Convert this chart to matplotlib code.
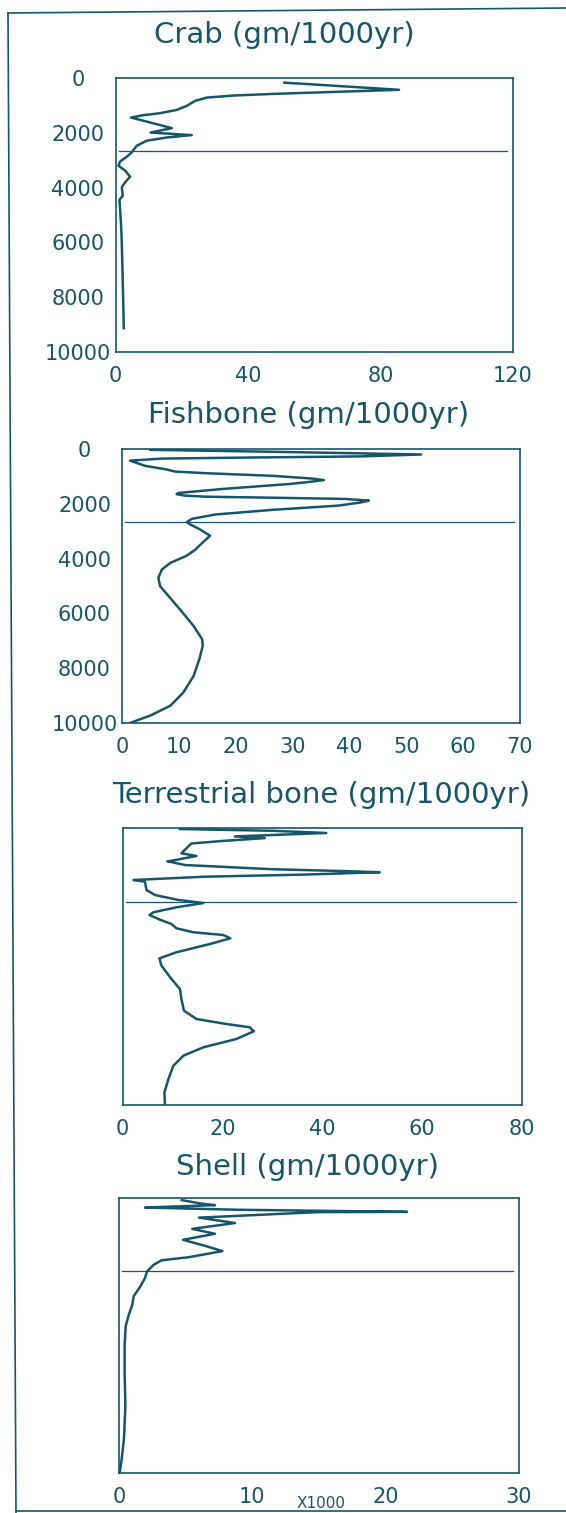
import matplotlib
matplotlib.use("Agg")
import matplotlib.pyplot as plt
from matplotlib.lines import Line2D

# ---------------- data (age in years, value) ----------------
crab_depth = [170, 430, 580, 640, 716, 836, 1018, 1164, 1285, 1357, 1443, 1830, 1990,
              2085, 2170, 2290, 2473, 2715, 2873, 3044, 3200, 3382, 3600, 3807, 3989,
              4290, 4450, 5000, 5640, 6500, 7500, 8500, 9130]
crab_val = [51, 85.6, 47.7, 35.6, 27.5, 24, 21.5, 18.5, 13.4, 8.4, 4.7, 17, 10.6,
            23, 15.5, 9.4, 6.4, 4.9, 3.4, 1.4, 0.9, 2.9, 4.4, 2.9, 1.9,
            2.2, 1.2, 1.5, 1.8, 2.0, 2.2, 2.4, 2.5]

fish_depth = [30, 110, 200, 270, 310, 350, 425, 616, 737, 822, 882, 978, 1080, 1134,
              1200, 1280, 1460, 1605, 1650, 1700, 1740, 1787, 1823, 1884, 1950, 2065,
              2222, 2391, 2548, 2670, 2754, 2910, 3164, 3430, 3673, 3891, 4158, 4400,
              4703, 5006, 5370, 5855, 6461, 6945, 7188, 7673, 8280, 8884, 9370, 9735,
              10000]
fish_val = [5, 29, 52.6, 42, 23, 7, 1.4, 4.1, 7.6, 9.3, 14.6, 26.4, 33.5, 35.5,
            33, 29.3, 17.6, 9.9, 9.6, 11, 14.6, 29.3, 39.3, 43.4, 42, 38.1,
            26.4, 16.4, 12.3, 11.4, 12, 13.5, 15.5, 14.1, 12.9, 11.4, 8.5, 7.0,
            6.4, 6.7, 8.2, 10.2, 12.6, 14.1, 14.2, 13.6, 12.6, 10.8, 8.5, 4.9,
            1.4]

terr_depth = [36, 100, 180, 304, 365, 470, 560, 733, 913, 1011, 1191, 1200, 1336, 1487,
              1556, 1596, 1682, 1758, 1877, 1939, 2238, 2419, 2599, 2708, 2863, 3043,
              3141, 3310, 3466, 3621, 3765, 3863, 3982, 4188, 4487, 4704, 4971, 5451,
              5812, 6173, 6594, 6895, 7076, 7195, 7339, 7617, 7917, 8220, 8581, 9061,
              9542, 10000]
terr_val = [11.5, 30, 40.8, 22.5, 28.5, 19.8, 13.8, 12.8, 11.8, 14.8, 9.5, 9.0, 12.5, 29.8,
            44.5, 51.5, 36.5, 16.5, 2.2, 4.5, 4.8, 6.5, 11.2, 16.2, 10.8, 6.2,
            5.4, 7.5, 9.8, 10.8, 14.2, 20.2, 21.6, 17.5, 10.8, 7.4, 7.8, 9.8,
            11.5, 11.8, 12.3, 14.8, 20.8, 25.5, 26.3, 22.8, 16.2, 12.2, 10.2, 9.2,
            8.4, 8.5]

shell_depth = [76, 206, 260, 312, 348, 428, 504, 514, 714, 909, 1123, 1300, 1521, 1739,
               1931, 2156, 2264, 2428, 2670, 2910, 3214, 3576, 3877, 4300, 4663, 5388,
               6355, 7562, 8768, 9493, 10000]
shell_val = [4.7, 6.2, 7.2, 4.0, 1.95, 9.0, 21.6, 14.9, 6.0, 8.7, 5.5, 7.2, 4.8, 6.45,
             7.75, 5.2, 3.2, 2.6, 2.1, 1.95, 1.6, 1.1, 1.0, 0.7, 0.5, 0.42,
             0.42, 0.48, 0.37, 0.2, 0.05]

boundary_age = 2670

titles = ["Crab (gm/1000yr)", "Fishbone (gm/1000yr)",
          "Terrestrial bone (gm/1000yr)", "Shell (gm/1000yr)"]
x_ticks = [[0, 40, 80, 120], [0, 10, 20, 30, 40, 50, 60, 70],
           [0, 20, 40, 60, 80], [0, 10, 20, 30]]
y_ticks = [0, 2000, 4000, 6000, 8000, 10000]
x_unit_note = "X1000"

# ---------------- layout ----------------
W, H = 566, 1513
C = "#17566a"
plt.rcParams['font.family'] = ['DejaVu Sans']

fig = plt.figure(figsize=(W / 100, H / 100), dpi=100)
fig.patch.set_facecolor("white")

# (left, right, top, bottom) in pixels
boxes = [(115.5, 513, 78, 352), (122, 520, 449, 723),
         (122.5, 522, 828, 1105), (119, 519, 1198, 1473)]
title_pos = [(284, 35), (309, 415), (321, 795), (308, 1167)]
show_y = [True, True, False, False]
series = [(crab_depth, crab_val), (fish_depth, fish_val),
          (terr_depth, terr_val), (shell_depth, shell_val)]

for i, ((l, r, t, b), (dep, val)) in enumerate(zip(boxes, series)):
    ax = fig.add_axes([l / W, 1 - b / H, (r - l) / W, (b - t) / H])
    ax.plot(val, dep, color=C, lw=1.8, solid_joinstyle='round')
    ax.axhline(boundary_age, xmin=0.008, xmax=0.985, color=C, lw=0.9)
    ax.set_xlim(x_ticks[i][0], x_ticks[i][-1])
    ax.set_ylim(10000, 0)
    ax.set_xticks(x_ticks[i])
    ax.set_xticklabels([str(v) for v in x_ticks[i]])
    for s in ax.spines.values():
        s.set_color(C)
        s.set_linewidth(1.2)
    ax.tick_params(axis='x', length=0, pad=10, labelsize=15, labelcolor=C)
    if show_y[i]:
        ax.set_yticks(y_ticks)
        ax.set_yticklabels([str(v) for v in y_ticks])
        ax.tick_params(axis='y', length=0, pad=27, labelsize=15, labelcolor=C)
        for lab in ax.get_yticklabels():
            lab.set_horizontalalignment('center')
    else:
        ax.set_yticks([])
    tx, ty = title_pos[i]
    fig.text(tx / W, 1 - ty / H, titles[i], ha='center', va='center',
             fontsize=21, color=C)

fig.text(321 / W, 1 - 1503 / H, x_unit_note, ha='center', va='center',
         fontsize=11, color=C)

# outer frame of the page
def fline(xs, ys, lw=1.2):
    fig.add_artist(Line2D([x / W for x in xs], [1 - y / H for y in ys],
                          transform=fig.transFigure, color=C, lw=lw))

fline([8, 16], [13, 1513])
fline([8, 566], [13, 8])
fline([16, 566], [1511, 1511])

fig.savefig("out.png", dpi=100, facecolor="white")
